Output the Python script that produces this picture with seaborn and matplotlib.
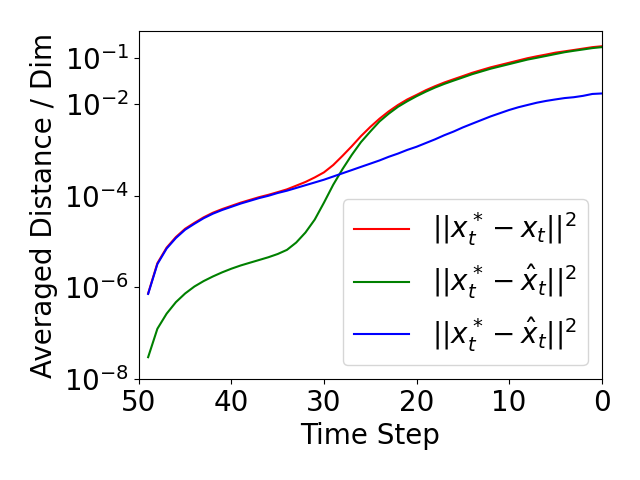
import numpy as np
import pandas as pd
import matplotlib
matplotlib.use("Agg")
import matplotlib.pyplot as plt
import seaborn as sns

# time steps run from 49 down to 0
steps = list(range(49, -1, -1))

# ||x_t^* - x_t||^2
dist_red = [7.41e-7, 3.39e-6, 7.41e-6, 1.26e-5, 1.91e-5, 2.57e-5, 3.39e-5, 4.27e-5, 5.13e-5, 6.03e-5,
            7.08e-5, 8.13e-5, 9.33e-5, 1.05e-4, 1.20e-4, 1.38e-4, 1.66e-4, 2.00e-4, 2.51e-4, 3.24e-4,
            4.68e-4, 7.41e-4, 1.20e-3, 2.00e-3, 3.16e-3, 4.79e-3, 6.92e-3, 9.55e-3, 1.26e-2, 1.58e-2,
            2.00e-2, 2.45e-2, 2.95e-2, 3.47e-2, 4.07e-2, 4.79e-2, 5.50e-2, 6.31e-2, 7.08e-2, 7.94e-2,
            8.91e-2, 1.00e-1, 1.10e-1, 1.20e-1, 1.32e-1, 1.41e-1, 1.51e-1, 1.62e-1, 1.74e-1, 1.82e-1]

# ||x_t^* - \hat x_t||^2 (green)
dist_green = [3.02e-8, 1.26e-7, 2.69e-7, 4.79e-7, 7.41e-7, 1.05e-6, 1.38e-6, 1.74e-6, 2.14e-6, 2.57e-6,
              3.02e-6, 3.47e-6, 3.98e-6, 4.57e-6, 5.37e-6, 6.61e-6, 9.55e-6, 1.58e-5, 3.02e-5, 7.08e-5,
              1.74e-4, 3.80e-4, 7.76e-4, 1.48e-3, 2.51e-3, 4.17e-3, 6.17e-3, 8.71e-3, 1.15e-2, 1.48e-2,
              1.86e-2, 2.29e-2, 2.75e-2, 3.24e-2, 3.80e-2, 4.47e-2, 5.13e-2, 5.89e-2, 6.61e-2, 7.41e-2,
              8.32e-2, 9.33e-2, 1.02e-1, 1.12e-1, 1.23e-1, 1.35e-1, 1.45e-1, 1.55e-1, 1.66e-1, 1.74e-1]

# ||x_t^* - \hat x_t||^2 (blue)
dist_blue = [7.24e-7, 3.24e-6, 7.08e-6, 1.20e-5, 1.82e-5, 2.45e-5, 3.24e-5, 4.07e-5, 4.90e-5, 5.75e-5,
             6.76e-5, 7.76e-5, 8.91e-5, 1.00e-4, 1.15e-4, 1.29e-4, 1.48e-4, 1.70e-4, 1.95e-4, 2.24e-4,
             2.63e-4, 3.09e-4, 3.63e-4, 4.27e-4, 5.01e-4, 5.89e-4, 7.08e-4, 8.32e-4, 1.00e-3, 1.17e-3,
             1.41e-3, 1.70e-3, 2.09e-3, 2.51e-3, 3.09e-3, 3.72e-3, 4.47e-3, 5.37e-3, 6.31e-3, 7.41e-3,
             8.51e-3, 9.55e-3, 1.07e-2, 1.17e-2, 1.26e-2, 1.35e-2, 1.41e-2, 1.51e-2, 1.66e-2, 1.70e-2]

labels = [r'$||x_t^* - x_t||^2$', r'$||x_t^* - \hat{x}_t||^2$', r'$||x_t^* - \hat{x}_t||^2$']
colors = ['red', 'green', 'blue']
yticks = [1e-8, 1e-6, 1e-4, 1e-2, 1e-1]

df = pd.DataFrame({'step': steps, 'red': dist_red, 'green': dist_green, 'blue': dist_blue})

fig, ax = plt.subplots(figsize=(6.4, 4.8), dpi=100)
for col, lab, c in zip(['red', 'green', 'blue'], labels, colors):
    sns.lineplot(data=df, x='step', y=col, color=c, label=lab, ax=ax)

ax.set_yscale('log')
ax.set_yticks(yticks)
ax.set_xlim(50, 0)
ax.set_xlabel('Time Step', fontsize=20)
ax.set_ylabel('Averaged Distance / Dim', fontsize=20)
ax.tick_params(labelsize=20)
ax.legend(fontsize=20, loc='lower right')
# axes box placed to match the original figure
plt.subplots_adjust(left=0.217, right=0.940, top=0.936, bottom=0.210)
plt.savefig('out.png', dpi=100)
